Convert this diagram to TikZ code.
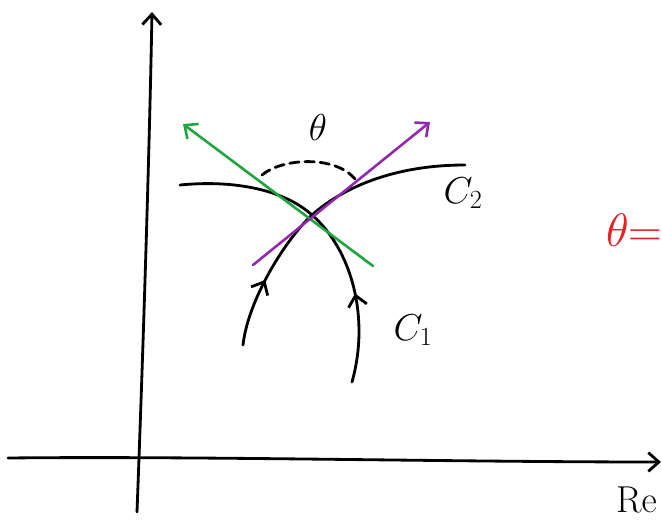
\RequirePackage{fix-cm}
\documentclass[tikz,border=0pt]{standalone}
\usepackage{amsmath}
\usepackage{tikz}
\usetikzlibrary{arrows.meta,decorations.markings,positioning}

\definecolor{tangentgreen}{RGB}{30,165,60}
\definecolor{tangentpurple}{RGB}{145,40,175}
\definecolor{handred}{RGB}{235,30,35}

\begin{document}
\begin{tikzpicture}[
        x=0.03cm, y=-0.03cm,
        >={Straight Barb[length=9pt,width=16pt]},
        ink/.style={line width=2.4pt, line cap=round, line join=round},
        axis/.style={ink, ->},
        tangent/.style={ink, ->, line width=2.2pt},
        path arrow/.style={postaction={decorate}, decoration={markings,
            mark=at position #1 with {\arrow{>}}}},
        lbl/.style={font=\fontsize{32}{36}\selectfont, inner sep=0pt}
    ]
        \clip (0,0) rectangle (662,523);
        % axes
        \coordinate (yfoot) at (137,512);
        \coordinate (ytop) at (152,12);
        \coordinate (xfoot) at (8,458);
        \coordinate (xtop) at (661,462);
        \draw[axis] (yfoot) .. controls (145,300) and (150,120) .. (ytop);
        \draw[axis] (xfoot) .. controls (200,456) and (450,462) .. (xtop);
        \node[lbl, anchor=west] (re) at (616,500) {$\mathrm{Re}$};
        % contours crossing at x
        \coordinate (x) at (312,215);
        \coordinate (a1) at (243,345);
        \coordinate (a2) at (465,165);
        \coordinate (b1) at (352,382);
        \coordinate (b2) at (180,185);
        \draw[ink, path arrow=0.22] (a1) .. controls (248,300) and (285,240) .. (x)
            .. controls (340,190) and (390,165) .. (a2);
        \draw[ink, path arrow=0.28] (b1) .. controls (370,318) and (352,250) .. (x)
            .. controls (282,188) and (230,180) .. (b2);
        % tangents
        \coordinate (g1) at (373,266);
        \coordinate (g2) at (183,124);
        \coordinate (p1) at (253,265);
        \coordinate (p2) at (430,122);
        \draw[tangent, tangentgreen] (g1) -- (g2);
        \draw[tangent, tangentpurple] (p1) -- (p2);
        % angle
        \coordinate (d1) at (262,175);
        \coordinate (d2) at (355,179);
        \draw[ink, dash pattern=on 8pt off 5pt] (d1) .. controls (282,158) and (335,155) .. (d2);
        \node[lbl] (theta) at (318,127) {$\theta$};
        \node[lbl] (c2) at (463,193) {$C_2$};
        \node[lbl] (c1) at (413,330) {$C_1$};
        \node[lbl, handred, anchor=west, font=\fontsize{40}{44}\selectfont] (res) at (606,230) {$\theta$=};
    \end{tikzpicture}
\end{document}
